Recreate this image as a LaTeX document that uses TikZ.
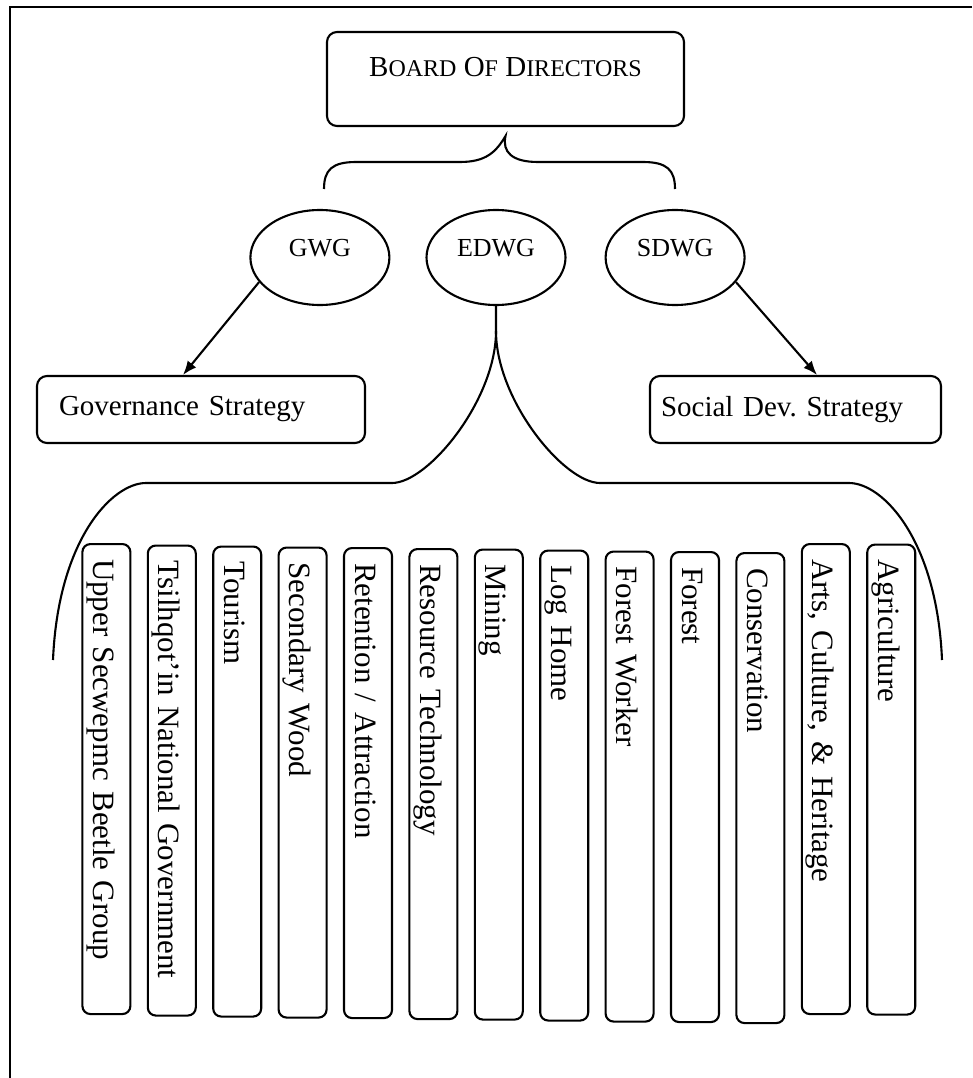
\documentclass[tikz,border=0pt]{standalone}
\usepackage{fontspec}
\setmainfont{Liberation Serif}
\usepackage{tikz}
\usetikzlibrary{positioning}
\usetikzlibrary{shapes.geometric}
\usetikzlibrary{arrows.meta}
\newcommand{\smallcap}[1]{{\fontsize{24}{28}\selectfont #1}}
\frenchspacing

\begin{document}
\begin{tikzpicture}[x=1pt,y=-1pt,line width=2.1pt]
			\tikzset{box/.style={shape=rectangle, draw=black, rounded corners=10pt, align=left, font=\fontsize{29}{34}\selectfont}}
			\tikzset{wg/.style={shape=ellipse, draw=black, minimum width=139pt, minimum height=95pt, inner sep=0pt, text depth=20pt, font=\fontsize{26}{30}\selectfont}}
			\tikzset{unit/.style={shape=rectangle, draw=black, rounded corners=8pt, rotate=-90, anchor=west, minimum width=470pt, minimum height=48pt, text width=440pt, inner xsep=15pt, inner ysep=0pt, align=left, text height=28pt, text depth=2pt, font=\fontsize{31}{36}\selectfont}}
			\tikzset{flow/.style={-{Latex[length=14pt,width=11pt]}}}
			\useasboundingbox (0,0) rectangle (972,1078);
			\draw[line width=2.4pt] (972,7) -- (10,7) -- (10,1078);
			\node[box, align=center, minimum width=357pt, minimum height=94pt, text depth=24pt] (board) at (505.5,79) {B\smallcap{OARD} O\smallcap{F} D\smallcap{IRECTORS}};
			\node[wg] (edwg) at (496,257.5) {EDWG};
			\node[wg, left=35pt of edwg] (gwg) {GWG};
			\node[wg, right=38pt of edwg] (sdwg) {SDWG};
			\node[box, text width=284pt, inner xsep=22pt, minimum height=67pt] (gov) at (201,409.5) {Governance Strategy};
			\node[box, text width=269pt, inner xsep=11pt, minimum height=67pt] (sdev) at (795.5,409.5) {Social Dev. Strategy};
			\foreach \name/\dy [count=\i from 0] in {Upper Secwepmc Beetle Group/0, Tsilhqot’in National Government/1.5, Tourism/2.5, Secondary Wood/3.5, {Retention / Attraction}/4, Resource Technology/5, Mining/5.5, Log Home/6.5, Forest Worker/7.5, Forest/8, Conservation/9, {Arts, Culture, \& Heritage}/0, Agriculture/0.5}
				\node[unit] (unit\i) at (106.4+65.4*\i, 543+\dy) {\name};
			% brace from the board
			\coordinate (tip) at ([yshift=-9pt]board.south);
			\coordinate (bl) at (324,189);
			\coordinate (br) at (675,189);
			\draw (bl) .. controls (324,170) and (332,162) .. (356,162) -- (460,162) .. controls (486,162) and (496,152) .. (tip) .. controls (502,152) and (512,162) .. (538,162) -- (643,162) .. controls (667,162) and (675,170) .. (br);
			\draw[flow] (gwg.202) -- ([xshift=-18pt]gov.north);
			\draw[flow] (sdwg.338) -- ([xshift=21.5pt]sdev.north);
			% brace under EDWG
			\coordinate (split) at ([yshift=-25pt]edwg.south);
			\coordinate (el) at (53,660);
			\coordinate (er) at (942,660);
			\draw (edwg.south) -- (split) .. controls (496,400) and (428,483) .. (392,483) -- (146,483) .. controls (112,483) and (58,540) .. (el);
			\draw (split) .. controls (496,400) and (564,483) .. (600,483) -- (849,483) .. controls (883,483) and (937,540) .. (er);
		\end{tikzpicture}
\end{document}
